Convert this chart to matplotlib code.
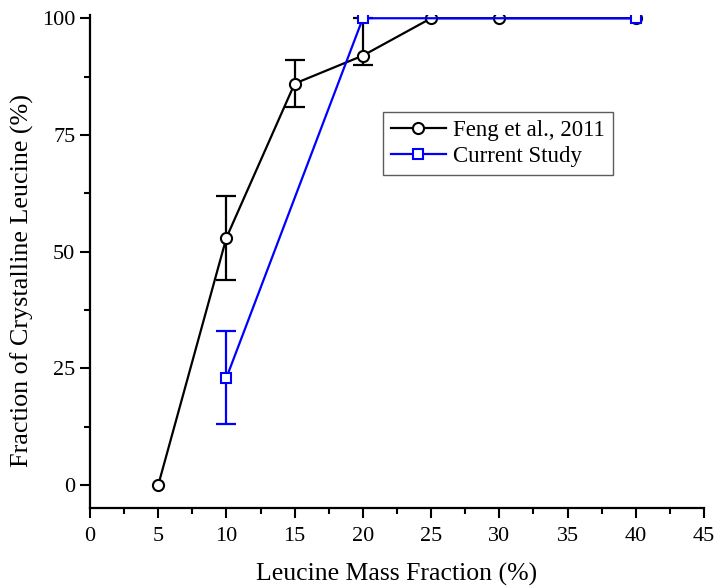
import matplotlib.pyplot as plt
from matplotlib.ticker import MultipleLocator

plt.rcParams['font.family'] = ['Liberation Serif', 'DejaVu Serif']

# Feng et al., 2011
feng_x = [5, 10, 15, 20, 25, 30, 40]
feng_y = [0, 53, 86, 92, 100, 100, 100]
feng_err_lo = [0, 9, 5, 2, 0, 0, 0]
feng_err_hi = [0, 9, 5, 8, 0, 0, 0]

# current study
cur_x = [10, 20, 40]
cur_y = [23, 100, 100]
cur_err = [10, 0, 0]

fig = plt.figure(figsize=(7.16, 5.87), dpi=100)
ax = fig.add_axes([0.1257, 0.1346, 0.8575, 0.8399])


def draw_series(x, y, lo, hi, color, marker, ms, label):
    # error bars only where there is an error
    keep = [i for i in range(len(x)) if lo[i] or hi[i]]
    ax.errorbar([x[i] for i in keep], [y[i] for i in keep],
                yerr=[[lo[i] for i in keep], [hi[i] for i in keep]],
                fmt='none', ecolor=color, elinewidth=1.6, capsize=7, capthick=1.6)
    ax.plot(x, y, color=color, lw=1.6, marker=marker, ms=ms, mfc='white',
            mec=color, mew=1.5, label=label)


draw_series(feng_x, feng_y, feng_err_lo, feng_err_hi, 'black', 'o', 8,
            'Feng et al., 2011')
draw_series(cur_x, cur_y, cur_err, cur_err, '#0000ff', 's', 7, 'Current Study')

ax.set_xlim(0, 45)
ax.set_ylim(-4.9, 100.7)
ax.xaxis.set_major_locator(MultipleLocator(5))
ax.xaxis.set_minor_locator(MultipleLocator(2.5))
ax.yaxis.set_major_locator(MultipleLocator(25))
ax.yaxis.set_minor_locator(MultipleLocator(12.5))
ax.set_yticks([0, 25, 50, 75, 100])

for side in ['top', 'right']:
    ax.spines[side].set_visible(False)
for side in ['left', 'bottom']:
    ax.spines[side].set_linewidth(1.6)

ax.tick_params(which='major', direction='out', length=7, width=1.5, labelsize=16)
ax.tick_params(which='minor', direction='out', length=4, width=1.5)
ax.tick_params(axis='x', which='major', pad=6.5)

ax.set_xlabel('Leucine Mass Fraction (%)', fontsize=18.5)
ax.set_ylabel('Fraction of Crystalline Leucine (%)', fontsize=18.8)
ax.xaxis.set_label_coords(0.5, -0.112)
ax.yaxis.set_label_coords(-0.091, 0.462)

leg = ax.legend(loc='upper left', bbox_to_anchor=(0.477, 0.803),
                fontsize=16.5, frameon=True, fancybox=False, edgecolor='#333333',
                borderpad=0.35, labelspacing=0.2, handlelength=2.4,
                handletextpad=0.3, borderaxespad=0)
leg.get_frame().set_linewidth(1.0)

fig.savefig('out.png', dpi=100)
